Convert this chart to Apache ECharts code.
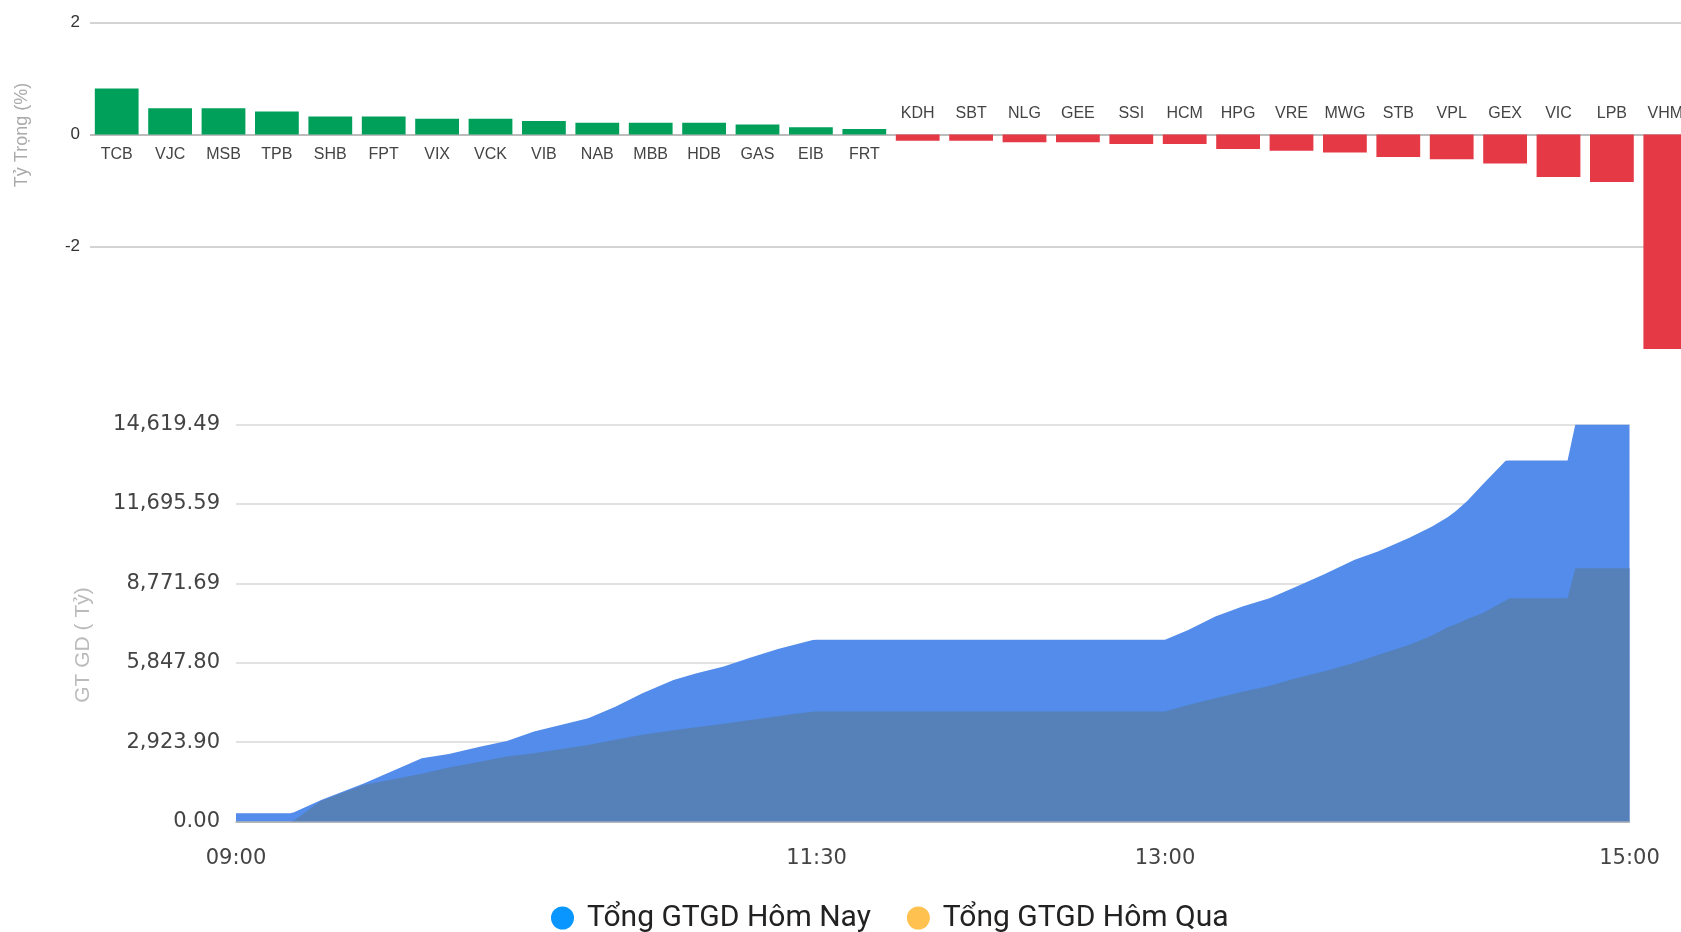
<!DOCTYPE html>
<html>
<head>
<meta charset="utf-8">
<script src="https://cdn.jsdelivr.net/npm/echarts@6/dist/echarts.min.js"></script>
<style>
  html, body { margin: 0; padding: 0; background: #fff; }
  #main { width: 1681px; height: 932px; }
</style>
</head>
<body>
<div id="main"></div>
<script>
// top chart: ty trong (%)
const stocks = ['TCB', 'VJC', 'MSB', 'TPB', 'SHB', 'FPT', 'VIX', 'VCK', 'VIB', 'NAB', 'MBB', 'HDB', 'GAS', 'EIB', 'FRT',
    'KDH', 'SBT', 'NLG', 'GEE', 'SSI', 'HCM', 'HPG', 'VRE', 'MWG', 'STB', 'VPL', 'GEX', 'VIC', 'LPB', 'VHM'];
const weights = [0.82, 0.47, 0.47, 0.41, 0.32, 0.32, 0.28, 0.28, 0.24, 0.21, 0.21, 0.21, 0.18, 0.13, 0.10,
    -0.11, -0.11, -0.14, -0.14, -0.17, -0.17, -0.26, -0.29, -0.32, -0.40, -0.44, -0.52, -0.76, -0.85, -3.83];
const weightTicks = [-4, -2, 0, 2];

// bottom chart: tong GTGD (ty)
const times = ['09:00', '09:14', '09:15', '09:22', '09:33', '09:44', '09:48', '09:55', '10:03', '10:10',
    '10:17', '10:31', '10:38', '10:45', '10:53', '10:59', '11:06', '11:13', '11:20', '11:24',
    '11:29', '11:30', '13:00', '13:06', '13:13', '13:20', '13:27', '13:34', '13:41', '13:49',
    '13:55', '14:03', '14:09', '14:13', '14:15', '14:18', '14:22', '14:28', '14:29', '14:44',
    '14:46', '15:00'];
const today = [300, 300, 340, 790, 1400, 2080, 2330, 2490, 2750, 2960,
    3310, 3800, 4230, 4720, 5210, 5460, 5710, 6040, 6350, 6500,
    6680, 6690, 6690, 7050, 7550, 7920, 8220, 8650, 9100, 9640,
    9940, 10440, 10860, 11200, 11420, 11790, 12400, 13280, 13290, 13290,
    14619.49, 14619.49];
const yesterday = [0, 0, 40, 760, 1345, 1650, 1760, 1990, 2200, 2390,
    2510, 2820, 3010, 3190, 3360, 3470, 3600, 3740, 3880, 3960,
    4040, 4050, 4050, 4290, 4540, 4780, 4990, 5280, 5520, 5850,
    6130, 6500, 6850, 7150, 7250, 7450, 7670, 8140, 8220, 8220,
    9330, 9330];
const timeTicks = ['09:00', '11:30', '13:00', '15:00'];
const totalMax = 14619.49;
const totalSplits = 5;

const GREEN = '#00a05a';
const RED = '#e63946';
const FONT = "'Liberation Sans', Arial, sans-serif";
const WIDE_FONT = "'DejaVu Sans', sans-serif";

// phut tinh tu 09:00
function toMin(s) {
    const [h, m] = s.split(':').map(Number);
    return (h - 9) * 60 + m;
}
const tickMins = timeTicks.map(toMin);

const chart = echarts.init(document.getElementById('main'));

const stockLabel = {
    interval: 0,
    margin: 12,
    fontFamily: FONT,
    fontSize: 16,
    color: '#444'
};

const option = {
    animation: false,
    backgroundColor: '#fff',
    grid: [
        // bar chart
        { left: 90, right: -11, top: 22.5, bottom: 932 - 358.5, outerBoundsMode: 'none' },
        // area chart
        { left: 236, right: 51.5, top: 424.5, bottom: 932 - 821.5, outerBoundsMode: 'none' },
        // dai mong tai truc 0 de dat nhan ma
        { left: 90, right: -11, top: 134, height: 1, outerBoundsMode: 'none' }
    ],
    legend: {
        left: 551,
        top: 903,
        padding: 0,
        icon: 'circle',
        itemWidth: 23,
        itemHeight: 23,
        itemGap: 36,
        textStyle: { fontFamily: 'Roboto', fontSize: 30, color: '#222', lineHeight: 30, padding: [0, 0, 0, 8] },
        data: ['Tổng GTGD Hôm Nay', 'Tổng GTGD Hôm Qua']
    },
    xAxis: [
        {
            type: 'category',
            gridIndex: 0,
            data: stocks,
            axisLine: { show: false },
            axisTick: { show: false },
            axisLabel: { show: false }
        },
        {
            type: 'value',
            gridIndex: 1,
            min: 0,
            max: 360,
            interval: 30,
            axisLine: { show: true, lineStyle: { color: '#a8a8a8', width: 1.5 } },
            axisTick: { show: false },
            splitLine: { show: false },
            axisLabel: {
                margin: 27,
                fontFamily: WIDE_FONT,
                fontSize: 21,
                color: '#444',
                formatter: v => {
                    const k = tickMins.indexOf(v);
                    return k >= 0 ? timeTicks[k] : '';
                }
            }
        },
        {
            // ma tang: nhan duoi truc 0
            type: 'category',
            gridIndex: 2,
            position: 'bottom',
            data: stocks,
            axisLine: { show: false },
            axisTick: { show: false },
            axisLabel: Object.assign({}, stockLabel, { formatter: (v, i) => weights[i] >= 0 ? v : '' })
        },
        {
            // ma giam: nhan tren truc 0
            type: 'category',
            gridIndex: 2,
            position: 'top',
            data: stocks,
            axisLine: { show: false },
            axisTick: { show: false },
            axisLabel: Object.assign({}, stockLabel, { formatter: (v, i) => weights[i] < 0 ? v : '' })
        }
    ],
    yAxis: [
        {
            type: 'value',
            gridIndex: 0,
            min: weightTicks[0],
            max: weightTicks[weightTicks.length - 1],
            interval: 2,
            axisLine: { show: false },
            axisTick: { show: false },
            splitLine: {
                lineStyle: { color: ['rgba(0,0,0,0)', '#c6c6c6', '#a6a6a6', '#c6c6c6'], width: 1.5 }
            },
            axisLabel: {
                margin: 10,
                fontFamily: FONT,
                fontSize: 17,
                color: '#333',
                formatter: v => v === weightTicks[0] ? '' : String(v)
            }
        },
        {
            type: 'value',
            gridIndex: 1,
            min: 0,
            max: totalMax,
            interval: totalMax / totalSplits,
            axisLine: { show: false },
            axisTick: { show: false },
            splitLine: { lineStyle: { color: '#d8d8d8', width: 1.5 } },
            axisLabel: {
                margin: 16,
                padding: [6, 0, 0, 0],
                fontFamily: WIDE_FONT,
                fontSize: 21,
                color: '#444',
                formatter: v => v.toLocaleString('en-US', { minimumFractionDigits: 2, maximumFractionDigits: 2 })
            }
        },
        {
            type: 'value',
            gridIndex: 2,
            min: 0,
            max: 1,
            show: false
        }
    ],
    graphic: [
        {
            type: 'text', x: 22, y: 135, rotation: Math.PI / 2,
            style: { text: 'Tỷ Trọng (%)', fill: '#aaa', font: "18px 'Liberation Sans', Arial", align: 'center', verticalAlign: 'middle' }
        },
        {
            type: 'text', x: 83, y: 645, rotation: Math.PI / 2,
            style: { text: 'GT GD ( Tỷ)', fill: '#bbb', font: "21px 'Liberation Sans', Arial", align: 'center', verticalAlign: 'middle' }
        }
    ],
    series: [
        {
            type: 'bar',
            xAxisIndex: 0,
            yAxisIndex: 0,
            barCategoryGap: '18%',
            data: weights,
            itemStyle: { color: p => p.value >= 0 ? GREEN : RED }
        },
        {
            name: 'Tổng GTGD Hôm Nay',
            type: 'line',
            xAxisIndex: 1,
            yAxisIndex: 1,
            showSymbol: false,
            data: times.map((t, i) => [toMin(t), today[i]]),
            itemStyle: { color: '#0a96ff' },
            lineStyle: { width: 0 },
            areaStyle: { color: '#538cea', opacity: 1 }
        },
        {
            name: 'Tổng GTGD Hôm Qua',
            type: 'line',
            xAxisIndex: 1,
            yAxisIndex: 1,
            showSymbol: false,
            data: times.map((t, i) => [toMin(t), yesterday[i]]),
            itemStyle: { color: '#ffc14f' },
            lineStyle: { width: 0 },
            areaStyle: { color: '#5581b8', opacity: 1 }
        }
    ]
};

chart.setOption(option);
</script>
</body>
</html>
